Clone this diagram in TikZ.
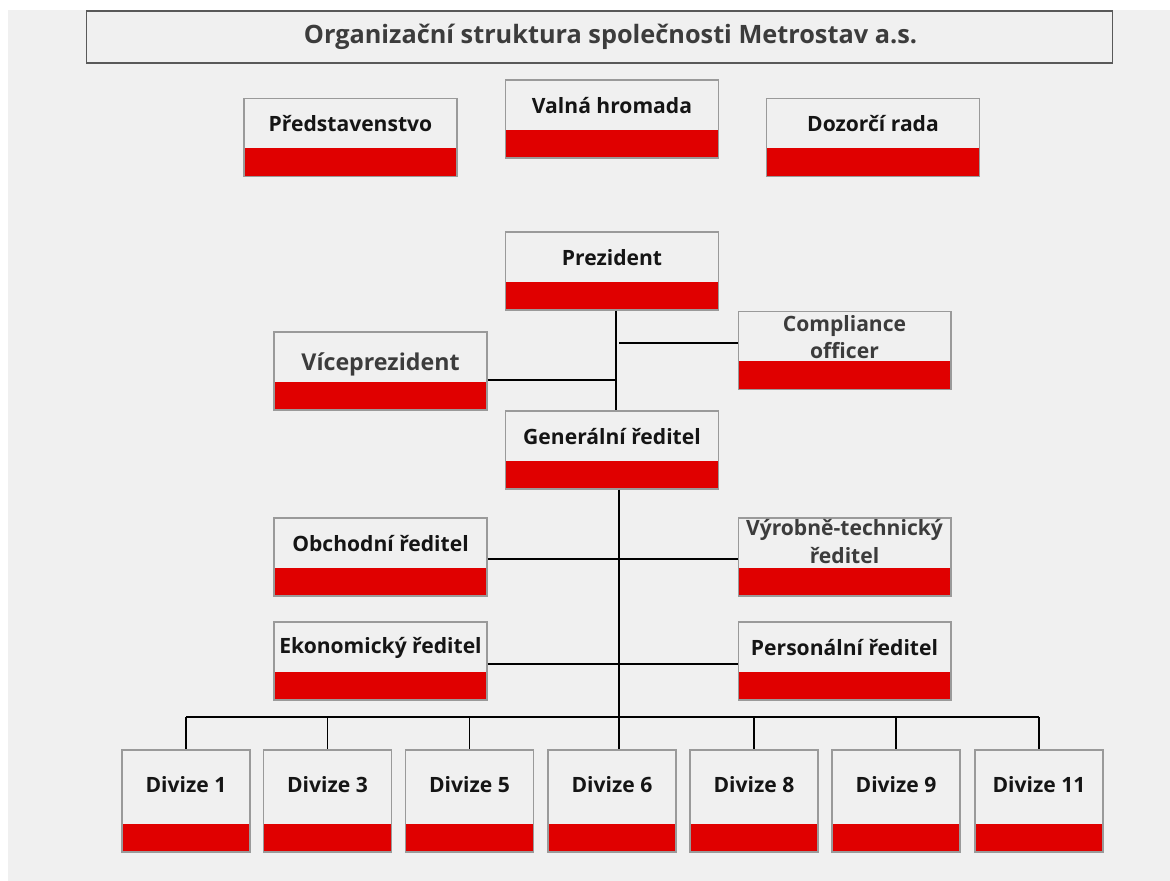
\documentclass[tikz,border=0pt]{standalone}
\usepackage{fontspec}
\setmainfont{Open Sans}
\definecolor{metrored}{HTML}{E00000}
\definecolor{boxgray}{HTML}{9A9A9A}
\definecolor{bggray}{HTML}{F0F0F0}
\definecolor{inkdark}{HTML}{151515}
\definecolor{inkgray}{HTML}{3C3C3C}
\tikzset{
  orgbox/.style={draw=boxgray, line width=0.6pt, fill=bggray, inner sep=0pt,
    minimum width=4.26cm, minimum height=1.56cm,
    path picture={\fill[metrored] (path picture bounding box.south west)
      rectangle ([yshift=0.56cm]path picture bounding box.south east);}},
  divbox/.style={orgbox, minimum width=2.56cm, minimum height=2.04cm},
  titlebox/.style={draw=black!65, line width=0.6pt, fill=bggray,
    minimum width=20.54cm, minimum height=1.04cm},
  titletext/.style={text=inkgray, xshift=0.22cm,
    font=\bfseries\fontsize{14.4}{16}\selectfont},
  boxtext/.style={font=\bfseries\fontsize{12}{15.6}\selectfont, text=inkdark,
    align=center, yshift=0.27cm},
  divtext/.style={boxtext, yshift=0.05cm},
}
\tikzset{link/.style={draw=black, line width=1.1pt}}
\begin{document}
\begin{tikzpicture}[x=0.02cm, y=-0.02cm]
    % background
    \fill [white] (0,0) rectangle (1170,881);
    \fill [bggray] (8,10) rectangle (1170,881);
    \node [titlebox, label={[titletext]center:Organizační struktura společnosti Metrostav a.s.}] (title) at (599.5,37) {};
    % statutory bodies
    \node [orgbox, label={[boxtext]center:Představenstvo}] (pred) at (350.5,137.5) {};
    \node [orgbox, label={[boxtext]center:Valná hromada}] (valna) at (612,119) {};
    \node [orgbox, label={[boxtext]center:Dozorčí rada}] (dozor) at (873,137.5) {};
    % management
    \node [orgbox, label={[boxtext]center:Prezident}] (prez) at (612,271) {};
    \node [orgbox, label={[boxtext, text=inkgray]center:{Compliance\\officer}}] (comp) at (844.5,350.5) {};
    \node [orgbox, label={[boxtext, text=inkgray, font=\bfseries\fontsize{13.2}{16}\selectfont, yshift=-0.13cm]center:Víceprezident}] (vice) at (380.5,371) {};
    \node [orgbox, label={[boxtext]center:Generální ředitel}] (gen) at (612,450) {};
    \node [orgbox, label={[boxtext]center:Obchodní ředitel}] (obch) at (380.5,557) {};
    \node [orgbox, label={[boxtext, text=inkgray, yshift=0.04cm]center:{Výrobně-technický\\ředitel}}] (vyrob) at (844.5,557) {};
    \node [orgbox, label={[boxtext]center:Ekonomický ředitel}] (ekon) at (380.5,661) {};
    \node [orgbox, label={[boxtext]center:Personální ředitel}] (pers) at (844.5,661) {};
    % divisions
    \foreach \n/\x in {1/186, 3/327.5, 5/469.5, 6/612, 8/754, 9/896, 11/1039}
        \node [divbox, label={[divtext]center:Divize \n}] (div\n) at (\x,801) {};
    % connectors
    \coordinate (bus) at (619,717);
    \draw [link] ([xshift=0.08cm]prez.south) -- ([xshift=0.08cm]gen.north);
    \draw [link] ([yshift=0.15cm]comp.west) -- ([yshift=0.15cm]comp.west -| bus) ++(-0.06cm,0);
    \draw [link] ([yshift=-0.18cm]vice.east) -- ([xshift=0.08cm,yshift=-0.18cm]vice.east -| gen.north);
    \draw [link] ([xshift=0.14cm]gen.south) -- ([xshift=0.14cm]div6.north);
    \draw [link] ([yshift=-0.04cm]obch.east) -- ([yshift=-0.04cm]vyrob.west);
    \draw [link] ([yshift=-0.06cm]ekon.east) -- ([yshift=-0.06cm]pers.west);
    \draw [link] (div1.north |- bus) -- (div11.north |- bus);
    \foreach \d in {div1, div3, div5, div8, div9, div11}
        \draw [link] (\d.north |- bus) -- (\d.north);
\end{tikzpicture}
\end{document}
